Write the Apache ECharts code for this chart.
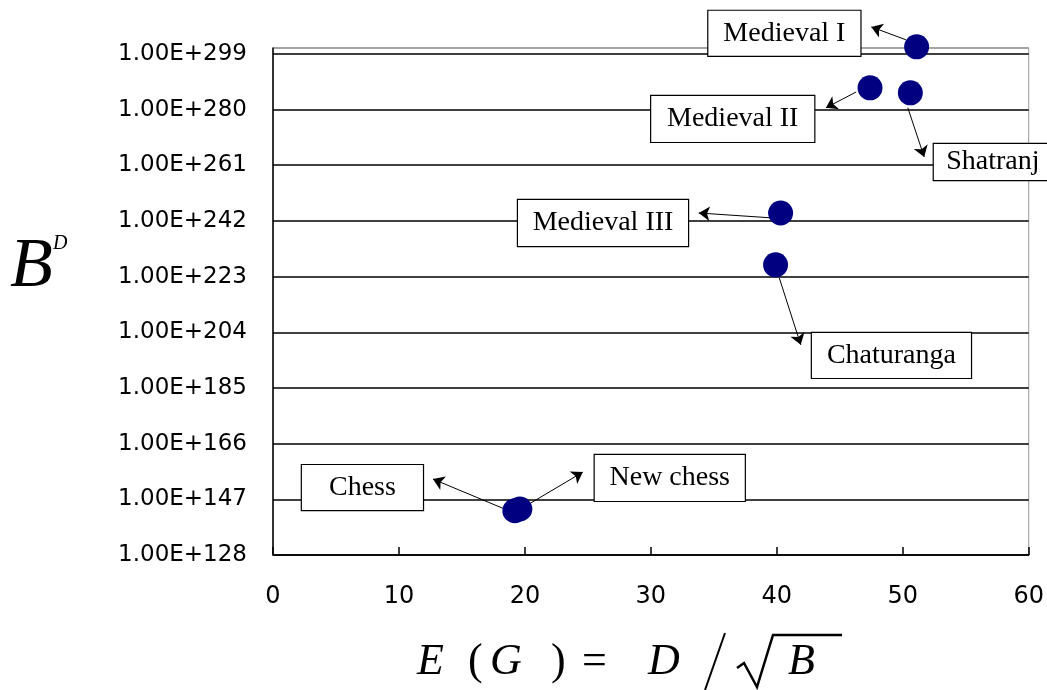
<!DOCTYPE html>
<html><head><meta charset="utf-8">
<script src="https://cdn.jsdelivr.net/npm/echarts@6/dist/echarts.min.js"></script>
<style>html,body{margin:0;padding:0;background:#fff}#c{width:1047px;height:690px}</style>
</head><body><div id="c"></div>
<script>
// ---- data ----
const games = ['Medieval I', 'Medieval II', 'Shatranj', 'Medieval III', 'Chaturanga', 'Chess', 'New chess'];
const egValues = [51.1, 47.4, 50.6, 40.3, 39.9, 19.2, 19.6];       // E(G) = D / sqrt(B)
const log10BD = [301.4, 287.4, 285.7, 244.7, 227.0, 143.1, 143.7]; // exponent of B^D
const yTicks = [128, 147, 166, 185, 204, 223, 242, 261, 280, 299];
const xTicks = [0, 10, 20, 30, 40, 50, 60];
// annotation anchors (data units)
const labelX = [40.6, 36.5, 57.15, 26.2, 49.1, 7.1, 31.5];
const labelY = [306.0, 276.8, 262.1, 241.3, 196.1, 151.0, 154.3];
const arrowFromX = [50.25, 46.3, 50.4, 39.7, 40.2, 18.55, 20.45];
const arrowFromY = [303.8, 286.0, 280.6, 243.0, 222.5, 143.4, 145.7];
const arrowToX = [47.5, 43.9, 51.7, 33.8, 41.9, 12.7, 24.6];
const arrowToY = [308.2, 280.6, 263.8, 244.7, 199.7, 153.9, 156.3];
const boxW = [154, 165, 120, 172, 161, 123, 152];
const boxH = [47, 48, 38, 48, 47, 47, 48];

const chart = echarts.init(document.getElementById('c'));
const yInterval = yTicks[1] - yTicks[0];
const splitColors = yTicks.map(() => '#000').concat(['#999']);

chart.setOption({
  animation: false,
  backgroundColor: '#fff',
  grid: { left: 273, right: 17, top: 48, bottom: 135, show: true, borderColor: '#999', borderWidth: 1 },
  xAxis: {
    type: 'value', min: xTicks[0], max: xTicks[xTicks.length - 1], interval: xTicks[1] - xTicks[0],
    axisLine: { show: true, lineStyle: { color: '#000', width: 1.5 } },
    axisTick: { show: true, inside: true, length: 8, lineStyle: { color: '#000', width: 1.5 } },
    axisLabel: { margin: 30, fontFamily: 'DejaVu Sans', fontSize: 24, color: '#000' },
    splitLine: { show: false }
  },
  yAxis: {
    type: 'value', min: yTicks[0], max: 301, interval: yInterval,
    axisLine: { show: true, lineStyle: { color: '#000', width: 1.5 } },
    axisTick: { show: false },
    axisLabel: {
      margin: 26, fontFamily: 'DejaVu Sans', fontSize: 23, color: '#000',
      formatter: v => yTicks.indexOf(Math.round(v)) >= 0 && Math.abs(v - Math.round(v)) < 1e-6 ? '1.00E+' + Math.round(v) : ''
    },
    splitLine: { show: true, lineStyle: { color: splitColors, width: 1.5 } }
  },
  series: [
    {
      type: 'lines', coordinateSystem: 'cartesian2d', clip: false, z: 3,
      symbol: ['none', 'arrow'], symbolSize: [0, 11],
      lineStyle: { color: '#000', width: 1, opacity: 1, curveness: 0 },
      data: games.map((g, i) => ({ coords: [[arrowFromX[i], arrowFromY[i]], [arrowToX[i], arrowToY[i]]] }))
    },
    {
      type: 'scatter', clip: false, z: 4, symbolSize: 25,
      itemStyle: { color: '#000080', opacity: 1 },
      data: egValues.map((x, i) => [x, log10BD[i]])
    },
    {
      type: 'scatter', clip: false, z: 5, symbolSize: 1, silent: true,
      itemStyle: { color: 'rgba(0,0,0,0)', opacity: 1 },
      label: {
        show: true, position: 'inside', formatter: '{b}',
        fontFamily: 'Liberation Serif', fontSize: 28, color: '#000',
        backgroundColor: '#fff', borderColor: '#000', borderWidth: 1.2, padding: 0,
        align: 'center', verticalAlign: 'middle'
      },
      data: games.map((g, i) => ({
        name: g, value: [labelX[i], labelY[i]],
        label: { width: boxW[i] - 2, lineHeight: boxH[i] - 2 }
      }))
    }
  ],
  graphic: [
    { type: 'text', x: 10, y: 268, style: { text: 'B', fontFamily: 'Liberation Serif', fontStyle: 'italic', fontSize: 70, fill: '#000', verticalAlign: 'middle' } },
    { type: 'text', x: 53, y: 244, style: { text: 'D', fontFamily: 'Liberation Serif', fontStyle: 'italic', fontSize: 20, fill: '#000', verticalAlign: 'middle' } },
    { type: 'text', x: 417, y: 662, style: { text: 'E', fontFamily: 'Liberation Serif', fontStyle: 'italic', fontSize: 44, fill: '#000', verticalAlign: 'middle' } },
    { type: 'text', x: 468, y: 662, style: { text: '(', fontFamily: 'Liberation Serif', fontSize: 44, fill: '#000', verticalAlign: 'middle' } },
    { type: 'text', x: 490, y: 662, style: { text: 'G', fontFamily: 'Liberation Serif', fontStyle: 'italic', fontSize: 44, fill: '#000', verticalAlign: 'middle' } },
    { type: 'text', x: 551, y: 662, style: { text: ')', fontFamily: 'Liberation Serif', fontSize: 44, fill: '#000', verticalAlign: 'middle' } },
    { type: 'text', x: 582, y: 662, style: { text: '=', fontFamily: 'Liberation Serif', fontSize: 44, fill: '#000', verticalAlign: 'middle' } },
    { type: 'text', x: 648, y: 662, style: { text: 'D', fontFamily: 'Liberation Serif', fontStyle: 'italic', fontSize: 44, fill: '#000', verticalAlign: 'middle' } },
    { type: 'line', shape: { x1: 725, y1: 633, x2: 705, y2: 690 }, style: { stroke: '#000', lineWidth: 2 } },
    { type: 'polyline', shape: { points: [[737, 668], [744, 663], [757, 687], [773, 635], [842, 635]] }, style: { stroke: '#000', lineWidth: 2.5, fill: null } },
    { type: 'text', x: 788, y: 662, style: { text: 'B', fontFamily: 'Liberation Serif', fontStyle: 'italic', fontSize: 44, fill: '#000', verticalAlign: 'middle' } }
  ]
});
</script>
</body></html>
